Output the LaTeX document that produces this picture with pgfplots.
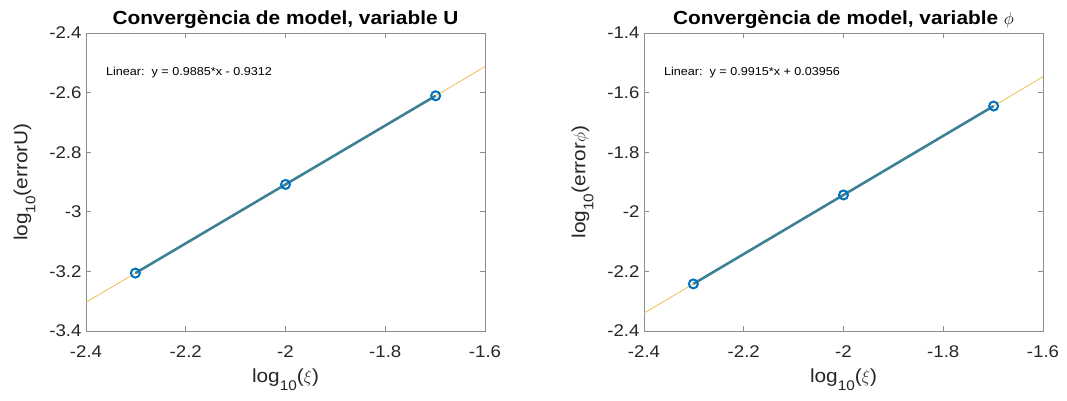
\documentclass[border=0pt]{standalone}
\usepackage{pgfplots}
\pgfplotsset{compat=1.18}
\usepackage{fontspec}
\setmainfont[FakeStretch=1.1]{Liberation Sans}
\definecolor{datateal}{RGB}{62,128,150}
\definecolor{mblue}{RGB}{0,114,189}
\definecolor{fityellow}{RGB}{237,190,80}
\definecolor{boxgray}{RGB}{140,140,140}
\definecolor{txtgray}{RGB}{38,38,38}
\pgfplotsset{
  mystyle/.style={
    scale only axis, width=399bp, height=298bp,
    xmin=-2.4, xmax=-1.6,
    xtick={-2.4,-2.2,-2,-1.8,-1.6},
    tick align=inside, major tick length=5bp,
    axis line style={boxgray, line width=0.7pt},
    every tick/.style={boxgray, line width=0.6pt},
    tick label style={font=\fontsize{17}{20}\selectfont, text=txtgray},
    /pgf/number format/assume math mode=true,
    xticklabel style={yshift=-11bp},
    yticklabel style={xshift=-1bp},
    label style={font=\fontsize{19}{22}\selectfont, text=txtgray},
    xlabel={log\raisebox{-0.8ex}{\fontsize{14}{16}\selectfont 10}($\xi$)},
    title style={font=\bfseries\fontsize{19}{21}\selectfont, yshift=-5bp},
    xlabel style={yshift=-4bp},
    ylabel style={yshift=7bp},
    clip=true,
  }
}
\begin{document}
\begin{tikzpicture}
\path[use as bounding box] (0,0) rectangle (1067bp,401bp);
\begin{axis}[mystyle, at={(86bp,70bp)}, anchor=south west,
  ymin=-3.4, ymax=-2.4,
  ytick={-3.4,-3.2,-3,-2.8,-2.6,-2.4},
  ylabel={log\raisebox{-0.8ex}{\fontsize{14}{16}\selectfont 10}(errorU)},
  title={Convergència de model, variable U}]
\addplot[fityellow, line width=0.8pt] coordinates {(-2.4,-3.3036) (-1.6,-2.5128)};
\addplot[datateal, line width=2.6pt] coordinates {(-2.30103,-3.2058) (-2,-2.9082) (-1.69897,-2.6107)};
\addplot[only marks, mark=o, mark size=4.5bp, mark options={mblue, line width=2pt}] coordinates {(-2.30103,-3.2058) (-2,-2.9082) (-1.69897,-2.6107)};
\node[anchor=west, font=\fontsize{11.5}{13}\selectfont, inner sep=0pt] at (axis cs:-2.36,-2.533) {Linear:\ \ y = 0.9885*x - 0.9312};
\end{axis}
\begin{axis}[mystyle, at={(644bp,70bp)}, anchor=south west,
  ymin=-2.4, ymax=-1.4,
  ytick={-2.4,-2.2,-2,-1.8,-1.6,-1.4},
  ylabel={log\raisebox{-0.8ex}{\fontsize{14}{16}\selectfont 10}(error$\phi$)},
  title={Convergència de model, variable $\phi$}]
\addplot[fityellow, line width=0.8pt] coordinates {(-2.4,-2.3400) (-1.6,-1.5468)};
\addplot[datateal, line width=2.6pt] coordinates {(-2.30103,-2.2419) (-2,-1.9434) (-1.69897,-1.6450)};
\addplot[only marks, mark=o, mark size=4.5bp, mark options={mblue, line width=2pt}] coordinates {(-2.30103,-2.2419) (-2,-1.9434) (-1.69897,-1.6450)};
\node[anchor=west, font=\fontsize{11.5}{13}\selectfont, inner sep=0pt] at (axis cs:-2.36,-1.533) {Linear:\ \ y = 0.9915*x + 0.03956};
\end{axis}
\end{tikzpicture}
\end{document}
